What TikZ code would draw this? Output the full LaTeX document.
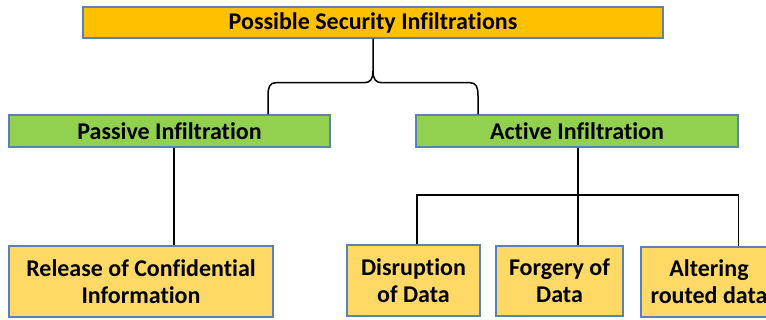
\documentclass[tikz,border=0pt]{standalone}
\usepackage{fontspec}
\setmainfont[Ligatures=NoCommon]{Carlito}
\usetikzlibrary{calc}
\definecolor{topfill}{HTML}{FFC000}
\definecolor{midfill}{HTML}{92D050}
\definecolor{leaffill}{HTML}{FFD966}
\definecolor{edgeblue}{HTML}{5B82B4}
\tikzset{
  box/.style={draw=edgeblue, line width=1.4pt, inner sep=0pt, align=center,
              font=\bfseries\fontsize{24}{27}\selectfont, text=black},
  topbox/.style={box, fill=topfill, minimum width=580pt, minimum height=31pt},
  midbox/.style={box, fill=midfill, minimum height=32pt},
  leafbox/.style={box, fill=leaffill, minimum height=71pt},
  link/.style={draw=black, line width=1.5pt}
}
\begin{document}
\begin{tikzpicture}[x=1pt, y=-1pt]
\useasboundingbox (0,0) rectangle (766,320);
\clip (0,0) rectangle (766,320);
\fill[white] (0,0) rectangle (766,320);

% hierarchy boxes
\node[topbox] (top) at (373,22.5) {Possible Security Infiltrations};
\node[midbox, minimum width=321pt] (passive) at (169.5,131) {Passive Infiltration};
\node[midbox, minimum width=322pt] (active) at (577,131) {Active Infiltration};
\node[leafbox, minimum width=264pt] (release) at (141,281.5) {Release of Confidential\\Information};
\node[leafbox, minimum width=133pt] (disrupt) at (413.5,280.5) {Disruption\\of Data};
\node[leafbox, minimum width=127pt, minimum height=70pt] (forgery) at (559.5,281) {Forgery of\\Data};
\node[leafbox, minimum width=136pt, minimum height=70pt] (alter) at (709,282) {Altering\\routed data};

% brace from the root to the two categories
\draw[link] (top.south) -- ++(0,32)
  .. controls ++(0,9) and ++(6,0) .. ++(-9,12)
  -- ++(-88,0)
  .. controls ++(-6,0) and ++(0,-9) .. ++(-8,13)
  -- (passive.north -| 268,0);
\draw[link] ($(top.south)+(0,32)$)
  .. controls ++(0,9) and ++(-6,0) .. ++(9,12)
  -- ++(88,0)
  .. controls ++(6,0) and ++(0,-9) .. ++(8,13)
  -- (active.north -| 478,0);

% passive branch
\draw[link] ([xshift=4.5pt]passive.south) -- ([xshift=4.5pt]passive.south |- release.north);

% active branch
\draw[link] ([xshift=1pt]active.south) -- ([xshift=1pt]active.south |- forgery.north);
\draw[link] ([xshift=3.5pt]disrupt.north) |- (active.east |- 0,195) -- (active.east |- alter.north);
\end{tikzpicture}
\end{document}
